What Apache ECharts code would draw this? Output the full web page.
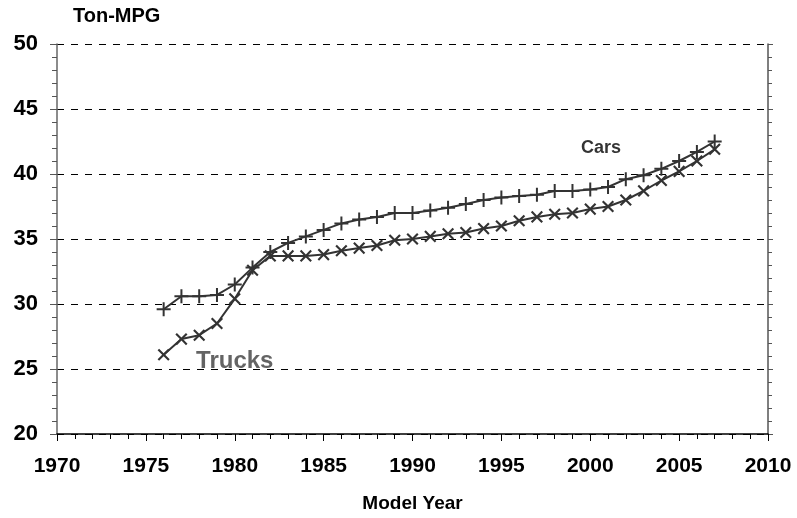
<!DOCTYPE html>
<html>
<head>
<meta charset="utf-8">
<script src="https://cdn.jsdelivr.net/npm/echarts@6/dist/echarts.min.js"></script>
<style>
  html, body { margin: 0; padding: 0; background: #fff; }
  #chart { width: 797px; height: 518px; }
</style>
</head>
<body>
<div id="chart"></div>
<script>
// model years 1976 - 2007
var years = [1976, 1977, 1978, 1979, 1980, 1981, 1982, 1983, 1984, 1985, 1986,
  1987, 1988, 1989, 1990, 1991, 1992, 1993, 1994, 1995, 1996, 1997, 1998,
  1999, 2000, 2001, 2002, 2003, 2004, 2005, 2006, 2007];
var cars = [29.6, 30.6, 30.6, 30.7, 31.5, 32.8, 34.0, 34.7, 35.2, 35.7, 36.2,
  36.5, 36.7, 37.0, 37.0, 37.2, 37.4, 37.7, 38.0, 38.2, 38.3, 38.4, 38.7,
  38.7, 38.8, 39.0, 39.6, 39.9, 40.4, 41.0, 41.7, 42.5];
var trucks = [26.1, 27.3, 27.6, 28.5, 30.4, 32.6, 33.7, 33.7, 33.7, 33.8, 34.1,
  34.3, 34.5, 34.9, 35.0, 35.2, 35.4, 35.5, 35.8, 36.0, 36.4, 36.7, 36.9,
  37.0, 37.3, 37.5, 38.0, 38.7, 39.5, 40.2, 41.0, 41.9];
// where the series names sit (data coords)
var carsLabelAt = [2000.6, 42.0];
var trucksLabelAt = [1980.0, 25.6];

var font = "'Liberation Sans', Arial, sans-serif";
var plus = 'path://M-1,-7L1,-7L1,-1L7,-1L7,1L1,1L1,7L-1,7L-1,1L-7,1L-7,-1L-1,-1Z';

function pairs(ys) {
  return years.map(function (y, i) { return [y, ys[i]]; });
}

var myChart = echarts.init(document.getElementById('chart'));
var option = {
  animation: false,
  backgroundColor: '#fff',
  textStyle: { fontFamily: font },
  grid: { left: 57, right: 29, top: 44, bottom: 83 },
  graphic: [{
    type: 'text', left: 73, top: 6,
    style: { text: 'Ton-MPG', font: 'bold 20px ' + font, fill: '#000' }
  }],
  xAxis: {
    type: 'value', min: 1970, max: 2010, interval: 5,
    name: 'Model Year', nameLocation: 'middle', nameGap: 60,
    nameTextStyle: { fontSize: 19, fontWeight: 'bold', color: '#000' },
    axisLine: { lineStyle: { color: '#000', width: 1.5 } },
    axisTick: { length: 7, lineStyle: { color: '#000' } },
    minorTick: { show: true, splitNumber: 5, length: 5, lineStyle: { color: '#000' } },
    axisLabel: { fontSize: 21, fontWeight: 'bold', color: '#000', margin: 22,
      formatter: function (v) { return String(v); } },
    splitLine: { show: false }
  },
  yAxis: [{
    type: 'value', min: 20, max: 50, interval: 5,
    axisLine: { show: true, lineStyle: { color: '#666', width: 1.5 } },
    axisTick: { show: true, length: 7, lineStyle: { color: '#555' } },
    minorTick: { show: true, splitNumber: 5, length: 5, lineStyle: { color: '#555' } },
    axisLabel: { fontSize: 22, fontWeight: 'bold', color: '#000', margin: 19 },
    splitLine: { show: true, lineStyle: { color: '#000', type: [7, 7], width: 1 } }
  }, {
    type: 'value', min: 20, max: 50, interval: 5, position: 'right',
    axisLine: { show: true, lineStyle: { color: '#555', width: 1.5 } },
    axisTick: { show: true, length: 5, lineStyle: { color: '#555' } },
    minorTick: { show: true, splitNumber: 5, length: 4, lineStyle: { color: '#555' } },
    axisLabel: { show: false },
    splitLine: { show: false }
  }],
  series: [{
    name: 'Cars', type: 'line', data: pairs(cars),
    symbol: plus, symbolSize: 14,
    lineStyle: { color: '#333', width: 2 },
    itemStyle: { color: '#333' }
  }, {
    name: 'Trucks', type: 'line', data: pairs(trucks),
    symbol: plus, symbolSize: 15, symbolRotate: 45,
    lineStyle: { color: '#333', width: 2 },
    itemStyle: { color: '#333' }
  }, {
    type: 'scatter', symbolSize: 0, silent: true,
    data: [carsLabelAt],
    label: { show: true, position: 'inside', formatter: 'Cars',
      fontSize: 18, fontWeight: 'bold', color: '#000' }
  }, {
    type: 'scatter', symbolSize: 0, silent: true,
    data: [trucksLabelAt],
    label: { show: true, position: 'inside', formatter: 'Trucks',
      fontSize: 24, fontWeight: 'bold', color: '#3d3d3d' }
  }]
};
myChart.setOption(option);
</script>
</body>
</html>
